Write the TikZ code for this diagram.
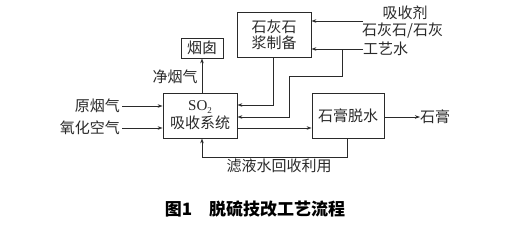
\documentclass[tikz,border=0pt]{standalone}
\usepackage{fontspec}
\newfontfamily\cjk{Noto Sans CJK SC}
\newfontfamily\lser{Liberation Serif}
\usetikzlibrary{arrows.meta}
\definecolor{ink}{HTML}{2A2A2A}
\begin{document}
\begin{tikzpicture}[x=1pt,y=-1pt,
  every node/.style={text=ink,font=\cjk\fontsize{15}{16}\selectfont,inner sep=0pt},
  box/.style={draw=ink,line width=0.8pt,align=center},
  con/.style={draw=ink,line width=0.8pt},
  arr/.style={con,-{Stealth[length=5pt,width=3.5pt]}}]
\useasboundingbox (0,0) rectangle (509,225);
\fill[white] (0,0) rectangle (509,225);
% boxes
\node[box,minimum width=42pt,minimum height=20pt] (yan) at (202,48) {烟囱};
\node[box,minimum width=74pt,minimum height=45pt] (so2) at (200,115.5) {{\lser\fontsize{15}{15}\selectfont SO\raisebox{-2.5pt}{\fontsize{9}{9}\selectfont 2}}\\[2pt]吸收系统};
\node[box,minimum width=74pt,minimum height=45pt] (shi) at (274,34.5) {石灰石\\[0pt]浆制备};
\node[box,minimum width=72pt,minimum height=45pt] (gao) at (348,115.5) {石膏脱水};
% labels
\node[anchor=east] (yuan) at (120,106) {原烟气};
\node[anchor=east] (yang) at (120,128) {氧化空气};
\node (jing) at (175,77) {净烟气};
\node (xsj) at (405,13) {吸收剂};
\node[anchor=west] (shlb) at (362,31) {石灰石/石灰};
\node[anchor=west] (gy) at (363,49) {工艺水};
\node[anchor=west] (sg) at (420,117) {石膏};
\node (lv) at (279,166) {滤液水回收利用};
\node[font=\cjk\bfseries\fontsize{17}{18}\selectfont,text=black] (cap) at (255,209) {图1\hspace{1em}脱硫技改工艺流程};
% coordinates
\coordinate (a1) at (363,21);
\coordinate (b1) at (342,49);
% connectors
\draw[arr] (yan.south |- so2.north) -- (yan.south);
\draw[arr] ([xshift=2pt]yuan.east) -- (so2.west |- yuan.east);
\draw[arr] ([xshift=2pt]yang.east) -- (so2.west |- yang.east);
\draw[arr] (a1) -- (shi.east |- a1);
\draw[arr] (gy.west) -- (shi.east |- gy.west);
\draw[arr] (b1) -- (342,76) -- (289,76) -- (289,117) -- (so2.east |- 0,117);
\draw[arr] (273,57) -- (273,105) -- (so2.east |- 0,105);
\draw[arr] (so2.east |- 0,128) -- (gao.west |- 0,128);
\draw[arr] (gao.east |- sg.west) -- (sg.west);
\draw[arr] (347,138) -- (347,157) -- (yan.south |- 0,157) -- (yan.south |- so2.south);
\end{tikzpicture}
\end{document}
